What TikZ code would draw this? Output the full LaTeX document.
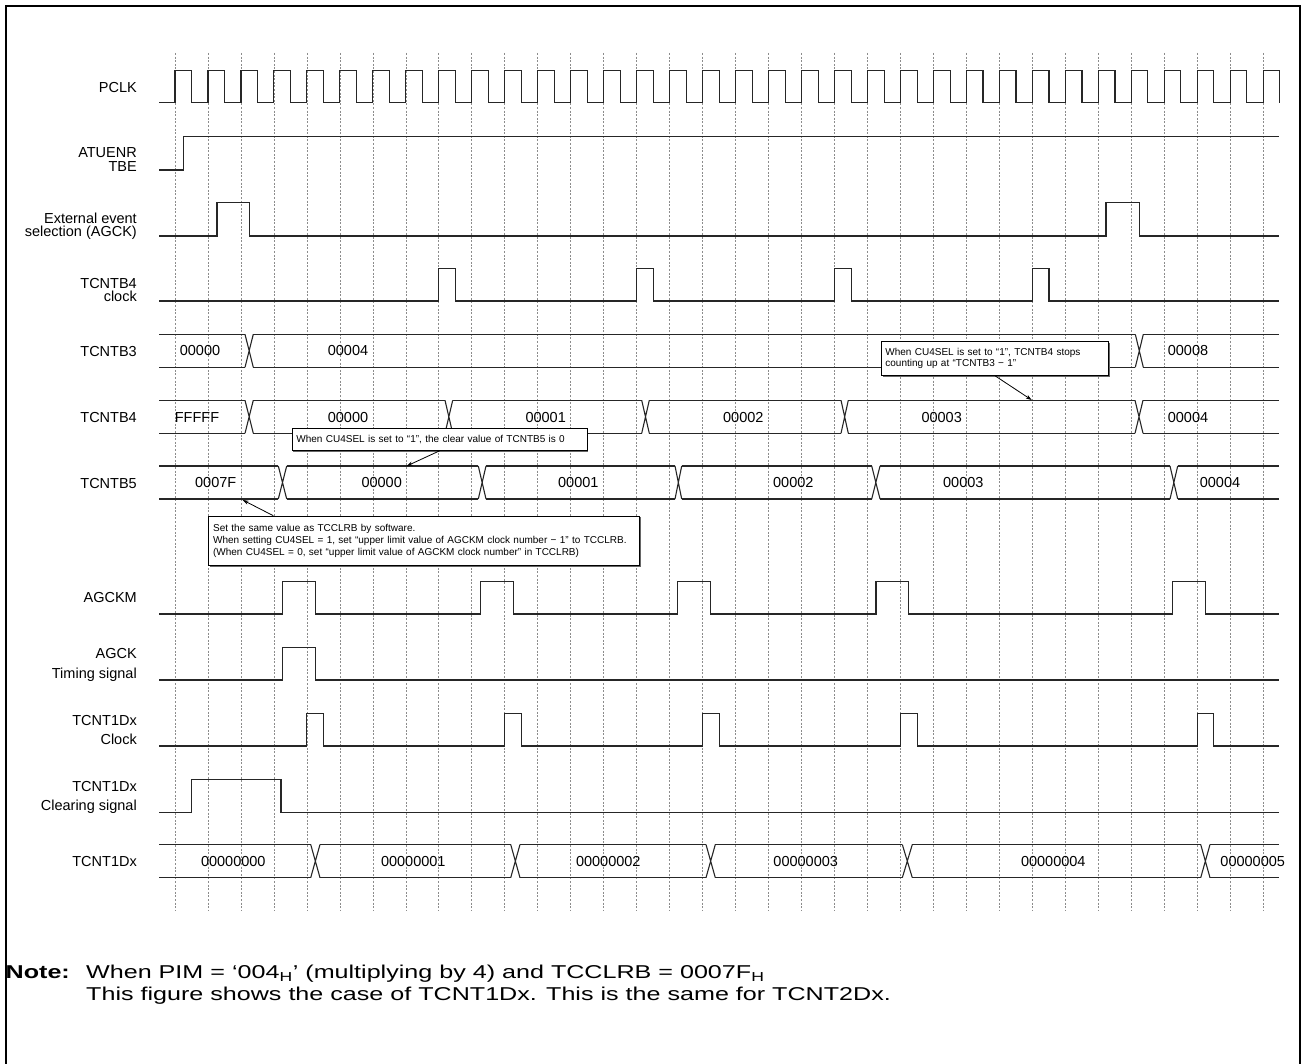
\documentclass[tikz,border=0pt]{standalone}
\usepackage{fontspec}
\setmainfont{Liberation Sans}
\usetikzlibrary{arrows.meta,calc,shadows}
\newcommand\busdraw[4]{%
  \foreach \u/\v in {#3} {\draw[sig] (\u,#1) -- (\v,#1) (\u,#2) -- (\v,#2);}
  \foreach \u/\v in {#4} {\draw[sig] (\u,#1) -- (\v,#2) (\u,#2) -- (\v,#1);}
}
\newcommand\pulsedraw[3]{%
  \draw[sig] (159,#1) foreach \a/\b in {#3} { -- (\a,#1) -- (\a,#2) -- (\b,#2) -- (\b,#1) } -- (1279.3,#1);
}
\begin{document}
\begin{tikzpicture}[x=1pt,y=-1pt,
  sig/.style={line width=1.1pt, draw=black!85},
  gridl/.style={draw=black!45, line width=0.7pt, dash pattern=on 2pt off 1.6pt},
  lab/.style={anchor=base east, font=\fontsize{14.5}{16}\selectfont, inner sep=0pt},
  val/.style={anchor=base, font=\fontsize{14.5}{16}\selectfont, inner sep=0pt},
  callout/.style={draw=black, line width=0.8pt, fill=white, align=left, inner ysep=0pt, anchor=north west,
    drop shadow={shadow xshift=1.3pt, shadow yshift=-1.3pt, fill=black!60, opacity=1}},
  ptr/.style={line width=0.8pt, draw=black, -{Stealth[length=6pt,width=4pt]}},
  notef/.style={anchor=base west, inner sep=0pt, font=\fontsize{18.6}{22}\selectfont},
]
\useasboundingbox (0,0) rectangle (1301,1064);
% frame
\draw[line width=2pt] (6.3,1065) -- (6.3,6.3) -- (1299.5,6.3) -- (1299.5,1065);
% grid
\foreach \k in {0,...,33} \draw[gridl] ({175+32.98*\k},53) -- ({175+32.98*\k},910);

% labels
\node[lab] (lPCLK) at (137,92.9) {PCLK};
\node[lab] (lATU1) at (137,157.9) {ATUENR};
\node[lab] (lATU2) at (137,171.2) {TBE};
\node[lab] (lEXT1) at (137,223.2) {External event};
\node[lab] (lEXT2) at (137,236.9) {selection (AGCK)};
\node[lab] (lB4C1) at (137,288.2) {TCNTB4};
\node[lab] (lB4C2) at (137,301.2) {clock};
\node[lab] (lB3) at (137,356.2) {TCNTB3};
\node[lab] (lB4) at (137,422.2) {TCNTB4};
\node[lab] (lB5) at (137,488.5) {TCNTB5};
\node[lab] (lAGCKM) at (137,602.5) {AGCKM};
\node[lab] (lAG1) at (137,658.5) {AGCK};
\node[lab] (lAG2) at (137,678.9) {Timing signal};
\node[lab] (lDC1) at (137,725.2) {TCNT1Dx};
\node[lab] (lDC2) at (137,744.5) {Clock};
\node[lab] (lDR1) at (137,791.2) {TCNT1Dx};
\node[lab] (lDR2) at (137,810.2) {Clearing signal};
\node[lab] (lD) at (137,866.9) {TCNT1Dx};

% PCLK
\draw[sig] (159,102.7) foreach \k in {0,...,33} { -- ({175+32.98*\k},102.7) -- ++(0,-32) -- ++(16.5,0) -- ++(0,32) };
% ATUENR TBE
\draw[sig] (159,170) -- (183.3,170) -- (183.3,136.7) -- (1279.3,136.7);
% External event
\pulsedraw{236}{202.7}{217/249.3, 1106/1139.3}
% TCNTB4 clock
\pulsedraw{301}{268.3}{438.8/455.3, 636.7/653.2, 834.6/851.1, 1032.5/1049}

% TCNTB3
\busdraw{334.3}{367.3}{159/245, 253.3/1135.3, 1143.3/1279.3}{245/253.3, 1135.3/1143.3}
\node[val] (v30) at (200,356) {00000};
\node[val] (v31) at (348,356) {00004};
\node[val] (v32) at (1188,356) {00008};
% TCNTB4
\busdraw{400.3}{433.3}{159/245, 253.3/445, 452.7/641.7, 649.3/841, 848.3/1135, 1143/1279.3}{245/253.3, 445/452.7, 641.7/649.3, 841/848.3, 1135/1143}
\node[val] (v40) at (197,422) {FFFFF};
\node[val] (v41) at (348,422) {00000};
\node[val] (v42) at (545.7,422) {00001};
\node[val] (v43) at (743.3,422) {00002};
\node[val] (v44) at (941.7,422) {00003};
\node[val] (v45) at (1188,422) {00004};
% TCNTB5
\busdraw{466}{499}{159/278.3, 286.7/478.3, 486/675, 681.7/871.7, 880/1170, 1177.7/1279.3}{278.3/286.7, 478.3/486, 675/681.7, 871.7/880, 1170/1177.7}
\node[val] (v50) at (215.7,487.7) {0007F};
\node[val] (v51) at (381.7,487.7) {00000};
\node[val] (v52) at (578.3,487.7) {00001};
\node[val] (v53) at (793.3,487.7) {00002};
\node[val] (v54) at (963.3,487.7) {00003};
\node[val] (v55) at (1220,487.7) {00004};

% AGCKM
\pulsedraw{614}{581.7}{282.7/315.3, 480.3/513.3, 677.7/710.7, 876/908.7, 1172.3/1205.3}
% AGCK timing signal
\pulsedraw{680}{647.3}{282.7/315.3}
% TCNT1Dx clock
\pulsedraw{746}{713.3}{306.9/323.4, 504.8/521.3, 702.7/719.2, 900.6/917.1, 1197.4/1213.9}
% TCNT1Dx clearing signal
\pulsedraw{812.3}{779.3}{191.7/281}
% TCNT1Dx bus
\busdraw{844.5}{877.7}{159/310.7, 320/510.7, 520/706, 715.3/902.3, 912.3/1200.7, 1210/1279.3}{310.7/320, 510.7/520, 706/715.3, 902.3/912.3, 1200.7/1210}
\node[val] (v60) at (233.3,866.2) {00000000};
\node[val] (v61) at (413.3,866.2) {00000001};
\node[val] (v62) at (608.3,866.2) {00000002};
\node[val] (v63) at (805.7,866.2) {00000003};
\node[val] (v64) at (1053.3,866.2) {00000004};
\node[val] (v65) at (1252.7,866.2) {00000005};

% callouts
\node[callout, inner xsep=4.3pt, text width=286.4pt, minimum height=22.3pt, font=\fontsize{10}{12}\selectfont] (c1) at (291.7,427.7)
  {When CU4SEL is set to “1”, the clear value of TCNTB5 is 0};
\coordinate (t1) at (406.7,466);
\draw[ptr] (c1.south) -- (t1);

\node[callout, inner xsep=4.4pt, text width=422.2pt, minimum height=49.3pt, font=\fontsize{10}{12}\selectfont] (c2) at (208.3,515.7)
  {Set the same value as TCCLRB by software.\\
   When setting CU4SEL = 1, set “upper limit value of AGCKM clock number − 1” to TCCLRB.\\
   (When CU4SEL = 0, set “upper limit value of AGCKM clock number” in TCCLRB)};
\coordinate (t2) at (242.7,500);
\draw[ptr] ($(c2.north west)+(65,0)$) -- (t2);

\node[callout, inner xsep=4pt, text width=219.3pt, minimum height=34pt, font=\fontsize{10}{11}\selectfont] (c3) at (881,341)
  {When CU4SEL is set to “1”, TCNTB4 stops\\ counting up at “TCNTB3 − 1”};
\coordinate (t3) at (1031.7,400);
\draw[ptr] (c3.south) -- (t3);

% note
\node[notef] (n0) at (5.5,978.3) {\scalebox{1.35}[1]{\bfseries Note:}};
\node[notef] (n1) at (86,978.3) {\scalebox{1.35}[1]{When PIM = ‘004\textsubscript{H}’ (multiplying by 4) and TCCLRB = 0007F\textsubscript{H}}};
\node[notef] (n2) at (86,1000) {\scalebox{1.35}[1]{This figure shows the case of TCNT1Dx. This is the same for TCNT2Dx.}};
\end{tikzpicture}
\end{document}
